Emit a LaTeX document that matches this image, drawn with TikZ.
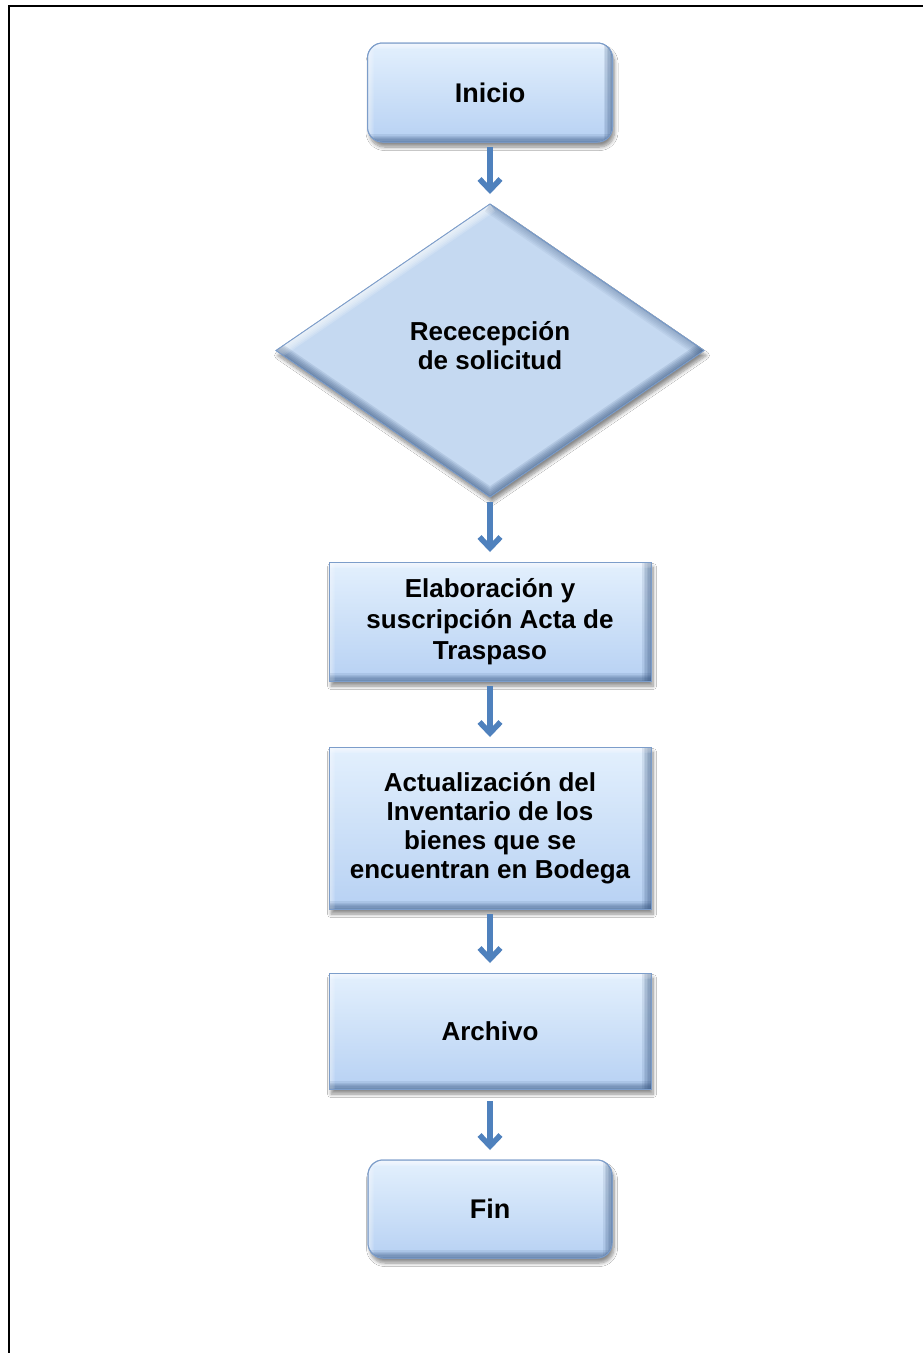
\documentclass[tikz,border=0pt]{standalone}
\usepackage{fontspec}
\setmainfont{Liberation Sans}
\usetikzlibrary{shapes.geometric,arrows.meta,shadows.blur}

\definecolor{arrowblue}{HTML}{4F81BD}
\definecolor{boxtop}{HTML}{E3F0FD}
\definecolor{boxbottom}{HTML}{B7D1F3}
\definecolor{decfill}{HTML}{C5D9F1}
\definecolor{boxline}{HTML}{7C9DCA}
\definecolor{bevdark}{HTML}{2E4D78}

\tikzset{
  softshadow/.style={blur shadow={shadow xshift=2pt, shadow yshift=-5pt,
      shadow opacity=45, shadow blur radius=3.5pt, shadow blur steps=8}},
  stepbox/.style={rectangle, minimum width=322pt, inner sep=0pt, outer sep=0pt,
      top color=boxtop, bottom color=boxbottom, draw=boxline, line width=1pt,
      softshadow, align=center, font=\fontsize{26}{29}\selectfont\bfseries},
  termbox/.style={stepbox, rounded corners=15pt, minimum width=245pt, minimum height=99pt,
      font=\fontsize{27}{30}\selectfont\bfseries},
  decbox/.style={diamond, minimum width=428pt, minimum height=293pt, inner sep=0pt,
      outer sep=0pt, fill=decfill, draw=boxline, line width=.8pt, softshadow,
      align=center, font=\fontsize{26}{29}\selectfont\bfseries},
  flow/.style={draw=arrowblue, line width=5.5pt,
      -{Straight Barb[length=11pt,width=21pt]},
      shorten <=5pt, shorten >=10pt}
}

% light upper/left edge and dark lower/right edge inside a box
\newcommand\boxbevel[2]{%
  \begin{scope}
    \clip[rounded corners=#2] (#1.north west) rectangle (#1.south east);
    \foreach \k in {1,...,6}{%
      \draw[white, opacity=.14, line width={\k*2pt}] (#1.north west) -- (#1.north east);
      \draw[white, opacity=.10, line width={\k*2pt}] (#1.north west) -- (#1.south west);
      \draw[bevdark, opacity=.11, line width={\k*3pt}] (#1.north east) -- (#1.south east);
      \draw[bevdark, opacity=.11, line width={\k*2.6pt}] (#1.south west) -- (#1.south east);
    }
  \end{scope}
  \draw[boxline, line width=1pt, rounded corners=#2] (#1.north west) rectangle (#1.south east);
}

% the same edge treatment for the decision diamond
\newcommand\diamondbevel[1]{%
  \begin{scope}
    \clip (#1.north) -- (#1.east) -- (#1.south) -- (#1.west) -- cycle;
    \foreach \k in {1,...,6}{%
      \draw[white, opacity=.16, line width={\k*3pt}] (#1.west) -- (#1.north);
      \draw[bevdark, opacity=.06, line width={\k*3pt}] (#1.north) -- (#1.east);
      \draw[bevdark, opacity=.12, line width={\k*3pt}] (#1.east) -- (#1.south) -- (#1.west);
    }
  \end{scope}
  \draw[boxline, line width=.8pt] (#1.north) -- (#1.east) -- (#1.south) -- (#1.west) -- cycle;
}

\begin{document}
\begin{tikzpicture}[x=1pt, y=-1pt]
  \useasboundingbox (0,0) rectangle (923,1353);
  \fill[white] (0,0) rectangle (923,1353);

  % page frame
  \draw[line width=2pt, line join=miter] (8.5,1354) -- (8.5,6) -- (924,6);

  % flow steps
  \node[termbox] (inicio) at (490,92.5) {Inicio};
  \node[decbox, text depth=10pt] (recep) at (490,350.5) {Rececepción\\de solicitud};
  \node[stepbox, minimum height=119pt, font=\fontsize{26}{31}\selectfont\bfseries]
       (acta) at (490,621.5) {Elaboración y\\suscripción Acta de\\Traspaso};
  \node[stepbox, minimum height=162pt] (inv) at (490,828)
       {Actualización del\\Inventario de los\\bienes que se\\encuentran en Bodega};
  \node[stepbox, minimum height=116pt] (arch) at (490,1031) {Archivo};
  \node[termbox, minimum width=244pt, minimum height=98pt] (fin) at (490,1209) {Fin};

  \boxbevel{inicio}{15pt}
  \diamondbevel{recep}
  \boxbevel{acta}{0pt}
  \boxbevel{inv}{0pt}
  \boxbevel{arch}{0pt}
  \boxbevel{fin}{15pt}

  % connectors
  \draw[flow] (inicio.south) -- (recep.north);
  \draw[flow] (recep.south) -- (acta.north);
  \draw[flow] (acta.south) -- (inv.north);
  \draw[flow] (inv.south) -- (arch.north);
  \draw[flow, shorten <=12pt] (arch.south) -- (fin.north);
\end{tikzpicture}
\end{document}
